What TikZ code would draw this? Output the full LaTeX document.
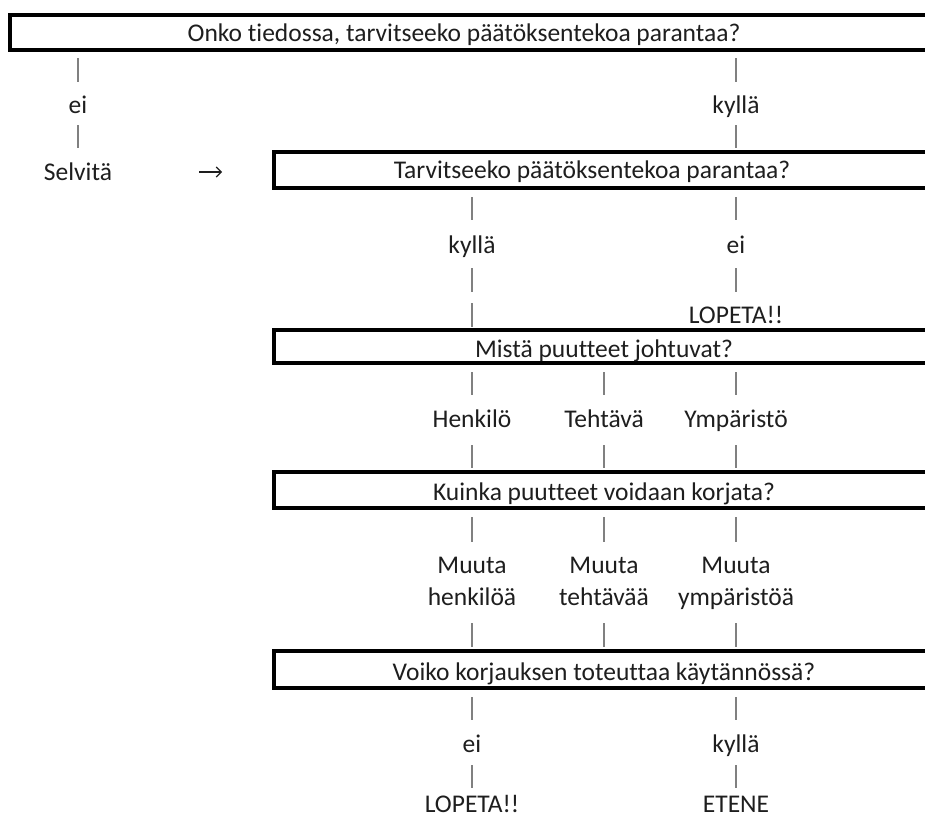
\documentclass[tikz,border=0pt]{standalone}
\usepackage{fontspec}
\setmainfont[Ligatures=NoCommon]{Carlito}
\usetikzlibrary{arrows.meta}
\definecolor{inkc}{HTML}{1E1E1E}
\definecolor{barc}{HTML}{808080}
\tikzset{
  lbl/.style={inner sep=0pt, anchor=base, text=inkc, font=\fontsize{25.5}{33}\selectfont},
  qbox/.style={draw=black, line width=3.2pt},
  bar/.style={draw=barc, line width=2.2pt},
  arr/.style={draw=inkc, line width=1.1pt, -{Straight Barb[length=5pt,width=10pt,line width=1.1pt]}},
}
\begin{document}
\begin{tikzpicture}[x=1pt,y=-1pt]
\useasboundingbox (0,0) rectangle (925,819);
\clip (0,0) rectangle (925,819);
\fill[white] (0,0) rectangle (925,819);

% column positions
\coordinate (colL) at (78,0);
\coordinate (colA) at (472,0);
\coordinate (colB) at (604,0);
\coordinate (colC) at (736,0);

% question boxes (they run off the right edge)
\draw[qbox] (10,15) rectangle (940,50);
\node[lbl] (q1) at (464,41) {Onko tiedossa, tarvitseeko päätöksentekoa parantaa?};
\draw[qbox] (274,152) rectangle (940,188);
\node[lbl] (q2) at (592,178) {Tarvitseeko päätöksentekoa parantaa?};
\draw[qbox] (274,330) rectangle (940,363);
\node[lbl] (q3) at (604,357) {Mistä puutteet johtuvat?};
\draw[qbox] (274,472) rectangle (940,508);
\node[lbl] (q4) at (604,500) {Kuinka puutteet voidaan korjata?};
\draw[qbox] (274,651) rectangle (940,688);
\node[lbl] (q5) at (604,680) {Voiko korjauksen toteuttaa käytännössä?};

% answers and outcomes
\node[lbl] (a1ei) at (colL |- 0,113) {ei};
\node[lbl] (a1ky) at (colC |- 0,113) {kyllä};
\node[lbl] (selv) at (colL |- 0,180) {Selvitä};
\coordinate (arrS) at (199,172);
\coordinate (arrE) at (222,172);
\node[lbl] (a2ky) at (colA |- 0,253) {kyllä};
\node[lbl] (a2ei) at (colC |- 0,253) {ei};
\node[lbl] (stop1) at (colC |- 0,323) {LOPETA!!};
\node[lbl] (henk) at (colA |- 0,427) {Henkilö};
\node[lbl] (teht) at (colB |- 0,427) {Tehtävä};
\node[lbl] (ymp) at (colC |- 0,427) {Ympäristö};
\node[lbl] (mhenk) at (colA |- 0,573) {Muuta};
\node[lbl] (mhenk2) at (colA |- 0,605) {henkilöä};
\node[lbl] (mteht) at (colB |- 0,573) {Muuta};
\node[lbl] (mteht2) at (colB |- 0,605) {tehtävää};
\node[lbl] (mymp) at (colC |- 0,573) {Muuta};
\node[lbl] (mymp2) at (colC |- 0,605) {ympäristöä};
\node[lbl] (a5ei) at (colA |- 0,752) {ei};
\node[lbl] (a5ky) at (colC |- 0,752) {kyllä};
\node[lbl] (stop2) at (colA |- 0,812) {LOPETA!!};
\node[lbl] (etene) at (colC |- 0,812) {ETENE};

\draw[arr] (arrS) -- (arrE);

% short vertical strokes between the levels
\foreach \c in {colL,colC}{
  \draw[bar] (\c |- 0,58) -- (\c |- 0,82);
  \draw[bar] (\c |- 0,125) -- (\c |- 0,148);
}
\foreach \c in {colA,colC}{
  \draw[bar] (\c |- 0,197) -- (\c |- 0,220);
  \draw[bar] (\c |- 0,268) -- (\c |- 0,292);
  \draw[bar] (\c |- 0,697) -- (\c |- 0,720);
  \draw[bar] (\c |- 0,765) -- (\c |- 0,788);
}
\draw[bar] (colA |- 0,303) -- (colA |- 0,327);
\foreach \c in {colA,colB,colC}{
  \draw[bar] (\c |- 0,372) -- (\c |- 0,395);
  \draw[bar] (\c |- 0,445) -- (\c |- 0,468);
  \draw[bar] (\c |- 0,517) -- (\c |- 0,542);
  \draw[bar] (\c |- 0,623) -- (\c |- 0,647);
}
\end{tikzpicture}
\end{document}
